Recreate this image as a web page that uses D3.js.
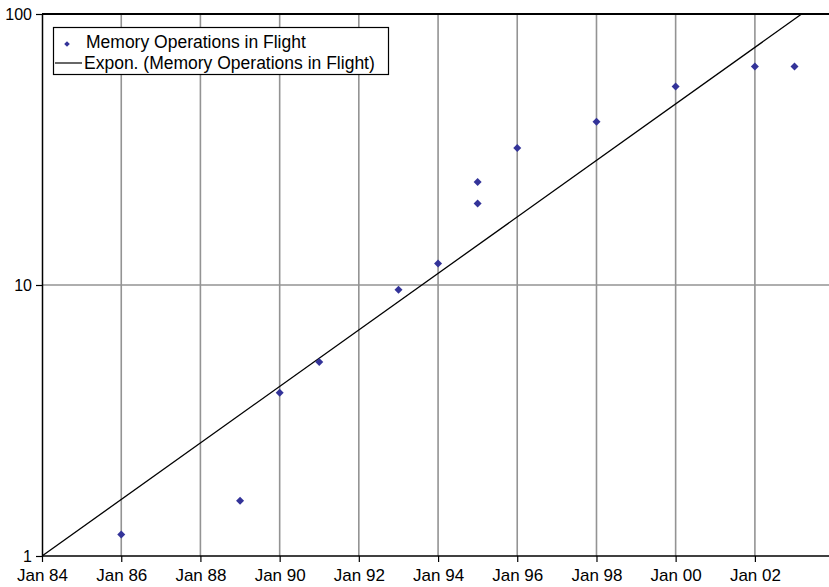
<!DOCTYPE html>
<html>
<head>
<meta charset="utf-8">
<script src="https://cdn.jsdelivr.net/npm/d3@7"></script>
<style>
  html, body { margin: 0; padding: 0; background: #fff; }
  svg { display: block; font-family: "Liberation Sans", Arial, Helvetica, sans-serif; }
</style>
</head>
<body>
<svg id="chart" width="829" height="587"></svg>
<script>
// ---- data ----
const pointDates = ["1986-01-01","1989-01-01","1990-01-01","1991-01-01","1993-01-01","1994-01-01","1995-01-01","1995-01-01","1996-01-01","1998-01-01","2000-01-01","2002-01-01","2003-01-01"];
const pointValues = [1.2, 1.6, 4, 5.2, 9.6, 12, 24, 20, 32, 40, 54, 64, 64];
const trendDates = ["1984-01-01", "2003-03-08"];
const trendValues = [1, 100];
const xTickDates = ["1984-01-01","1986-01-01","1988-01-01","1990-01-01","1992-01-01","1994-01-01","1996-01-01","1998-01-01","2000-01-01","2002-01-01"];
const yTickValues = [1, 10, 100];
const seriesName = "Memory Operations in Flight";
const trendName = "Expon. (Memory Operations in Flight)";

// ---- layout ----
const W = 829, H = 587;
const pLeft = 42, pTop = 14, pBottom = 556, pRight = W;
const parse = d3.utcParse("%Y-%m-%d");
const fmt = d3.utcFormat("Jan %y");

const svg = d3.select("#chart");

const x = d3.scaleUtc()
  .domain([parse("1984-01-01"), parse("2004-01-01")])
  .range([pLeft, pLeft + 7305 * 0.108425]);
const y = d3.scaleLog().domain([1, 100]).range([pBottom, pTop]);

svg.append("clipPath").attr("id", "plotclip")
  .append("rect").attr("x", pLeft).attr("y", pTop).attr("width", pRight - pLeft).attr("height", pBottom - pTop);

// gridlines
const grid = svg.append("g");
grid.selectAll("line.v").data(xTickDates.slice(1)).enter().append("line")
  .attr("x1", d => x(parse(d))).attr("x2", d => x(parse(d)))
  .attr("y1", pTop).attr("y2", pBottom)
  .attr("stroke", "#939393").attr("stroke-width", 1.6);
grid.selectAll("line.h").data(yTickValues.filter(v => v > 1 && v < 100)).enter().append("line")
  .attr("x1", pLeft).attr("x2", pRight)
  .attr("y1", d => y(d)).attr("y2", d => y(d))
  .attr("stroke", "#939393").attr("stroke-width", 1.6);

// top border
svg.append("line").attr("x1", pLeft).attr("x2", pRight).attr("y1", pTop).attr("y2", pTop)
  .attr("stroke", "#000").attr("stroke-width", 1.8);

// trend line
const trend = trendDates.map((d, i) => [parse(d), trendValues[i]]);
svg.append("path")
  .attr("clip-path", "url(#plotclip)")
  .attr("d", d3.line().x(d => x(d[0])).y(d => y(d[1]))(trend))
  .attr("fill", "none").attr("stroke", "#000").attr("stroke-width", 1.3);

// points
const diamond = "M0,-4L4,0L0,4L-4,0Z";
svg.append("g").selectAll("path").data(pointDates.map((d, i) => [parse(d), pointValues[i]]))
  .enter().append("path")
  .attr("d", diamond)
  .attr("transform", d => `translate(${x(d[0])},${y(d[1])})`)
  .attr("fill", "#333399");

// y axis
const yAxis = d3.axisLeft(y).tickValues(yTickValues).tickFormat(d3.format("d")).tickSizeInner(6).tickSizeOuter(0).tickPadding(4);
const gy = svg.append("g").attr("transform", `translate(${pLeft},0)`).call(yAxis);
gy.select(".domain").attr("stroke", "#000").attr("stroke-width", 1.5);
gy.selectAll(".tick line").attr("stroke", "#000").attr("stroke-width", 1.2);
gy.selectAll(".tick text").attr("font-size", 16).attr("fill", "#000")
  .attr("font-family", "Liberation Sans, Arial, sans-serif");

// x axis
const xAxis = d3.axisBottom(x).tickValues(xTickDates.map(parse)).tickFormat(fmt).tickSizeInner(6).tickSizeOuter(0).tickPadding(7);
const gx = svg.append("g").attr("transform", `translate(0,${pBottom})`).call(xAxis);
gx.select(".domain").attr("stroke", "#000").attr("stroke-width", 1.5).attr("d", `M${pLeft},0H${pRight}`);
gx.selectAll(".tick line").attr("stroke", "#000").attr("stroke-width", 1.2);
gx.selectAll(".tick text").attr("font-size", 17).attr("fill", "#000")
  .attr("font-family", "Liberation Sans, Arial, sans-serif");

// legend
const lg = svg.append("g");
lg.append("rect").attr("x", 53.5).attr("y", 27.5).attr("width", 335).attr("height", 47)
  .attr("fill", "#fff").attr("stroke", "#000").attr("stroke-width", 1.2);
lg.append("path").attr("d", diamond).attr("transform", "translate(67,44) scale(0.7)").attr("fill", "#333399");
lg.append("text").attr("x", 86).attr("y", 48).attr("font-size", 17.5).text(seriesName);
lg.append("line").attr("x1", 55).attr("x2", 82).attr("y1", 63).attr("y2", 63).attr("stroke", "#000").attr("stroke-width", 1.2);
lg.append("text").attr("x", 84).attr("y", 68.5).attr("font-size", 17.5).text(trendName);
</script>
</body>
</html>
